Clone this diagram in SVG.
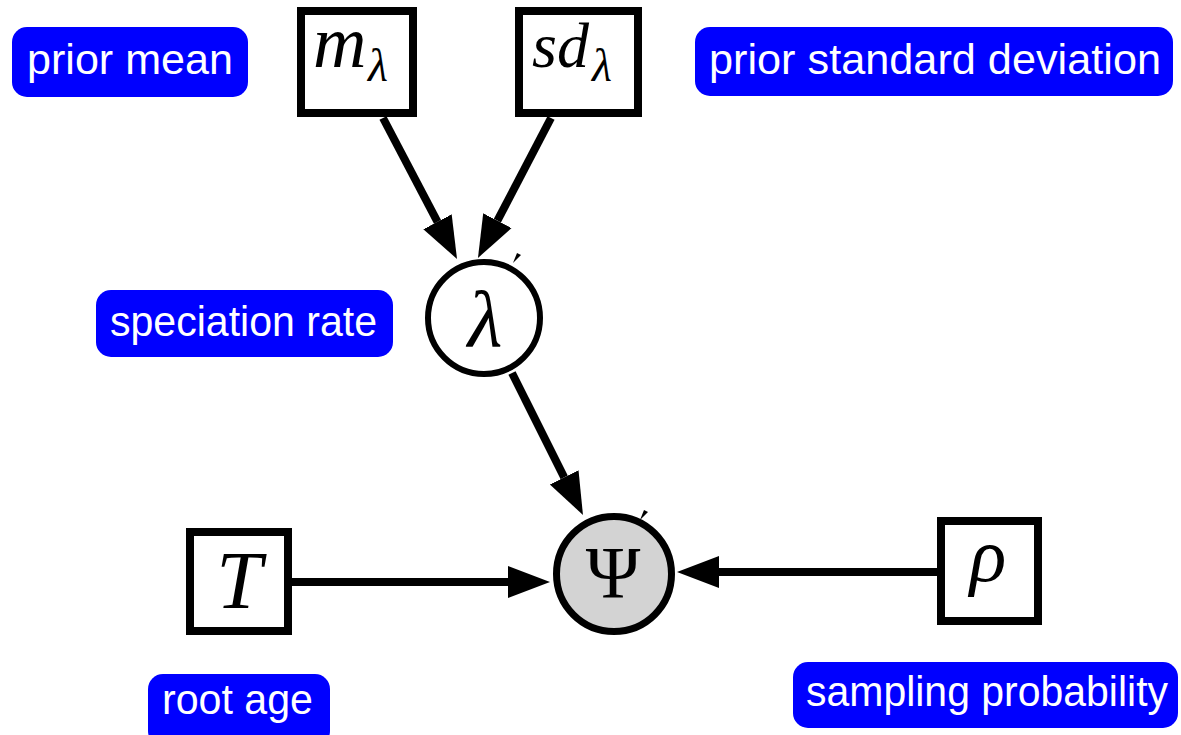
<svg xmlns="http://www.w3.org/2000/svg" width="1181" height="735" viewBox="0 0 1181 735">
<style>
.lbl rect{fill:#0000ff;}
.lbl text{fill:#ffffff;font-family:"Liberation Sans",Arial,sans-serif;font-size:43px;}
.box{fill:#ffffff;stroke:#000000;stroke-width:8;}
.circ{stroke:#000000;}
.math{font-family:"Liberation Serif","Times New Roman",serif;font-style:italic;fill:#000000;}
.edge{stroke:#000000;stroke-width:8;fill:none;marker-end:url(#ah);}
</style>
<defs>
<marker id="ah" markerUnits="userSpaceOnUse" viewBox="0 -17 42 34" refX="0" refY="0" markerWidth="42" markerHeight="34" orient="auto">
<path d="M0,-16 L42,0 L0,16 Z" fill="#000000"/>
</marker>
</defs>
<rect width="1181" height="735" fill="#ffffff"/>
<g id="connectors">
<line class="edge" x1="383" y1="118" x2="437.5" y2="221.8"/>
<line class="edge" x1="551" y1="118" x2="497.4" y2="220.7"/>
<line class="edge" x1="512" y1="373" x2="564.2" y2="477.4"/>
<line class="edge" x1="292" y1="582" x2="508" y2="582"/>
<line class="edge" x1="937" y1="572" x2="719" y2="572"/>
<path d="M513,263 L517,253 L521,255 Z" fill="#000000"/>
<path d="M640,520 L644,510 L648,512 Z" fill="#000000"/>
</g>
<g id="node-m">
<rect class="box" x="301" y="11" width="112" height="102"/>
<text class="math" x="313" y="67" font-size="74">m</text>
<text class="math" x="368" y="81" font-size="46">λ</text>
</g>
<g id="node-sd">
<rect class="box" x="519" y="11" width="119" height="102"/>
<text class="math" x="532" y="67" font-size="64">sd</text>
<text class="math" x="592" y="81" font-size="46">λ</text>
</g>
<g id="node-lambda">
<circle class="circ" cx="484" cy="318" r="56" fill="#ffffff" stroke-width="6"/>
<text class="math" x="485" y="346" font-size="80" text-anchor="middle">λ</text>
</g>
<g id="node-psi">
<circle class="circ" cx="614" cy="574" r="57.5" fill="#d3d3d3" stroke-width="7"/>
<text x="613" y="598" font-size="74" text-anchor="middle" font-family="Liberation Serif,'Times New Roman',serif" fill="#000000">Ψ</text>
</g>
<g id="node-T">
<rect class="box" x="190" y="532" width="98" height="99"/>
<text class="math" x="239" y="608" font-size="82" text-anchor="middle">T</text>
</g>
<g id="node-rho">
<rect class="box" x="941" y="521" width="97" height="100"/>
<text class="math" x="988" y="581" font-size="76" text-anchor="middle">ρ</text>
</g>
<g id="label-prior-mean" class="lbl">
<rect x="12" y="27" width="236" height="70" rx="15"/>
<text x="27" y="74" textLength="206" lengthAdjust="spacingAndGlyphs">prior mean</text>
</g>
<g id="label-prior-sd" class="lbl">
<rect x="695" y="27" width="478" height="69" rx="15"/>
<text x="709" y="74" textLength="452" lengthAdjust="spacingAndGlyphs">prior standard deviation</text>
</g>
<g id="label-speciation" class="lbl">
<rect x="96" y="290" width="297" height="67" rx="15"/>
<text x="110" y="336" textLength="267" lengthAdjust="spacingAndGlyphs">speciation rate</text>
</g>
<g id="label-root-age" class="lbl">
<rect x="148" y="674" width="182" height="72" rx="15"/>
<text x="162" y="714" textLength="151" lengthAdjust="spacingAndGlyphs">root age</text>
</g>
<g id="label-sampling" class="lbl">
<rect x="793" y="662" width="385" height="66" rx="15"/>
<text x="806" y="706" font-size="39" textLength="362" lengthAdjust="spacingAndGlyphs">sampling probability</text>
</g>
</svg>
